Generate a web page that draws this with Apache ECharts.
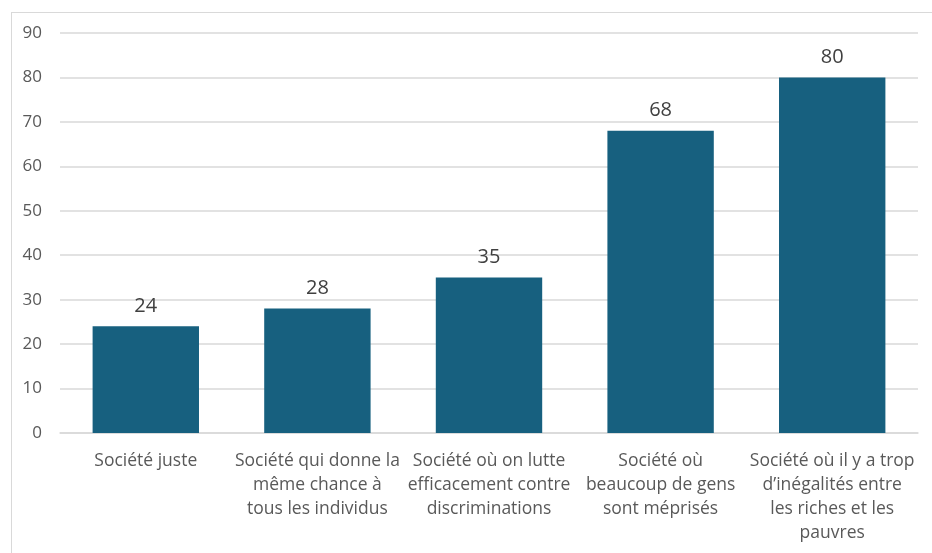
<!DOCTYPE html>
<html><head><meta charset="utf-8">
<script src="https://cdn.jsdelivr.net/npm/echarts@6/dist/echarts.min.js"></script>
<style>
html,body{margin:0;padding:0;background:#fff;}
#frame{position:absolute;left:11px;top:12px;width:2000px;height:2000px;border:1.5px solid #d9d9d9;box-sizing:border-box;}
#c{position:absolute;left:0;top:0;width:932px;height:553px;}
</style></head>
<body>
<div id="frame"></div>
<div id="c"></div>
<script>
const categories = [
  "Société juste",
  "Société qui donne la\nmême chance à\ntous les individus",
  "Société où on lutte\nefficacement contre\ndiscriminations",
  "Société où\nbeaucoup de gens\nsont méprisés",
  "Société où il y a trop\nd’inégalités entre\nles riches et les\npauvres"
];
const values = [24, 28, 35, 68, 80];
const yTicks = [0, 10, 20, 30, 40, 50, 60, 70, 80, 90];

const chart = echarts.init(document.getElementById('c'));
const font = '"Open Sans", "Noto Sans", sans-serif';
chart.setOption({
  animation: false,
  textStyle: { fontFamily: font },
  grid: { left: 60, right: 14, top: 33, bottom: 120, containLabel: false },
  xAxis: {
    type: 'category',
    data: categories,
    axisLine: { show: true, lineStyle: { color: '#d9d9d9', width: 1.5 } },
    axisTick: { show: false },
    axisLabel: { color: '#595959', fontSize: 17.5, lineHeight: 24, margin: 16, interval: 0, fontFamily: font }
  },
  yAxis: {
    type: 'value',
    min: yTicks[0], max: yTicks[yTicks.length - 1], interval: 10,
    axisLine: { show: false },
    axisTick: { show: false },
    splitLine: { lineStyle: { color: '#d9d9d9', width: 1.5 } },
    axisLabel: { color: '#595959', fontSize: 17, margin: 18, fontFamily: font }
  },
  series: [{
    type: 'bar',
    data: values,
    barWidth: '62%',
    itemStyle: { color: '#17607f' },
    label: { show: true, position: 'top', distance: 10, color: '#404040', fontSize: 20, fontFamily: font }
  }]
});
</script>
</body></html>
